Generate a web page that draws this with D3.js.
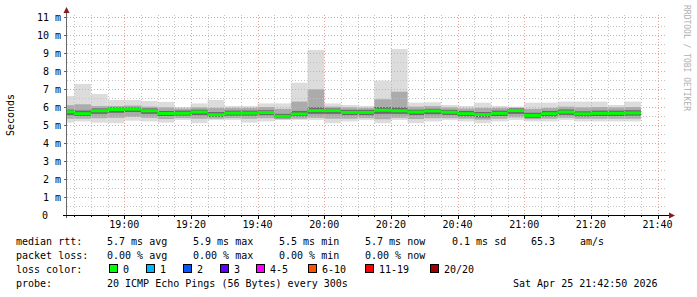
<!DOCTYPE html>
<html>
<head>
<meta charset="utf-8">
<script src="https://cdn.jsdelivr.net/npm/d3@7"></script>
<style>
  body { margin: 0; background: #fff; }
  svg { display: block; }
  text { font-family: "DejaVu Sans Mono", monospace; font-size: 10px; fill: #000; }
</style>
</head>
<body>
<script>
// 5 minute steps, value shown for the step ending at that time
var stepEnds = ["18:45","18:50","18:55","19:00","19:05","19:10","19:15","19:20","19:25","19:30",
                "19:35","19:40","19:45","19:50","19:55","20:00","20:05","20:10","20:15","20:20",
                "20:25","20:30","20:35","20:40","20:45","20:50","20:55","21:00","21:05","21:10",
                "21:15","21:20","21:25","21:30","21:35"];

// rtt in ms
var rttMedian = [5.73,5.63,5.79,5.86,5.88,5.79,5.64,5.65,5.72,5.57,5.66,5.66,5.69,5.48,5.61,5.80,5.80,5.70,5.70,5.82,
                 5.79,5.72,5.78,5.71,5.63,5.58,5.65,5.80,5.53,5.63,5.72,5.62,5.65,5.65,5.67];
var rttMax    = [6.61,7.28,6.72,6.39,6.39,6.33,6.28,6.00,6.20,6.39,6.06,6.06,6.20,6.20,7.35,9.17,6.20,6.11,6.06,7.46,
                 9.22,6.24,6.26,6.11,6.06,6.24,6.06,6.02,6.24,6.24,6.30,6.30,6.30,6.11,6.30];
var rttHigh   = [6.10,6.15,6.05,6.05,6.08,6.02,5.98,5.92,5.98,5.95,5.95,5.95,6.00,5.90,6.30,6.98,6.02,5.98,5.95,6.43,
                 6.85,6.02,6.05,5.98,5.92,5.95,5.95,5.96,5.90,5.95,6.02,5.98,6.00,5.98,6.00];
var rttQ3     = [5.85,5.80,5.92,5.98,5.98,5.92,5.78,5.80,5.85,5.72,5.80,5.80,5.82,5.62,5.78,5.98,5.92,5.84,5.84,6.00,
                 5.98,5.85,5.90,5.84,5.78,5.72,5.80,5.92,5.68,5.78,5.86,5.76,5.80,5.80,5.82];
var rttQ1     = [5.55,5.50,5.62,5.68,5.72,5.62,5.50,5.52,5.55,5.45,5.52,5.52,5.55,5.38,5.48,5.62,5.62,5.55,5.55,5.62,
                 5.62,5.55,5.60,5.56,5.48,5.42,5.50,5.62,5.40,5.48,5.56,5.48,5.50,5.50,5.52];
var rttLow    = [5.35,5.35,5.38,5.40,5.45,5.40,5.33,5.38,5.35,5.35,5.38,5.35,5.38,5.32,5.35,5.40,5.35,5.35,5.38,5.32,
                 5.40,5.33,5.38,5.38,5.35,5.30,5.35,5.42,5.32,5.35,5.40,5.35,5.35,5.35,5.35];
var rttMin    = [5.13,5.20,5.13,5.10,5.24,5.20,5.13,5.28,5.10,5.28,5.28,5.13,5.20,5.28,5.28,5.28,5.10,5.20,5.28,5.10,
                 5.28,5.10,5.20,5.28,5.20,5.10,5.20,5.28,5.20,5.20,5.28,5.20,5.20,5.20,5.20];

var yTicks = [0,1,2,3,4,5,6,7,8,9,10,11];
var xTickLabels = ["19:00","19:20","19:40","20:00","20:20","20:40","21:00","21:20","21:40"];

var lossNames  = ["0","1","2","3","4-5","6-10","11-19","20/20"];
var lossColors = ["#00ff00","#00b8ff","#0059ff","#5e00ff","#ff00ff","#ff5500","#ff0000","#a10000"];

var parse = d3.timeParse("%Y-%m-%d %H:%M:%S");
var day = "2026-04-25 ";
var tStart = parse(day + "18:42:50"), tEnd = parse(day + "21:42:50");

var svg = d3.select("body").append("svg")
    .attr("width", 697)
    .attr("height", 297);

var x = d3.scaleTime().domain([tStart, tEnd]).range([67, 667]);
var y = d3.scaleLinear().domain([0, 200 / 18]).range([215, 15]);

// one record per step
var steps = stepEnds.map(function(t, i) {
  var end = parse(day + t + ":00");
  var start = new Date(Math.max(+tStart, end - 300000));
  return {x0: x(start), x1: x(end), med: rttMedian[i], max: rttMax[i], hi: rttHigh[i],
          q3: rttQ3[i], q1: rttQ1[i], lo: rttLow[i], min: rttMin[i]};
});

// smoke layers, light outside to dark inside
var layers = [["min","max","#dcdcdc"],["lo","hi","#ababab"],["q1","q3","#6a6a6a"]];
layers.forEach(function(l) {
  svg.append("g").selectAll("rect")
    .data(steps)
    .enter().append("rect")
      .attr("x", function(d) {return d.x0;})
      .attr("width", function(d) {return d.x1 - d.x0;})
      .attr("y", function(d) {return y(d[l[1]]);})
      .attr("height", function(d) {return y(d[l[0]]) - y(d[l[1]]);})
      .attr("fill", l[2]);
});

// grid
var grid = svg.append("g");
var minorY = d3.range(0.5, 11.1, 1);
grid.selectAll("line.hminor").data(minorY).enter().append("line")
    .attr("x1", 67).attr("x2", 667)
    .attr("y1", function(d) {return Math.round(y(d)) + 0.5;})
    .attr("y2", function(d) {return Math.round(y(d)) + 0.5;})
    .attr("stroke", "#c4c4c4").attr("stroke-dasharray", "1,2");
grid.selectAll("line.hmajor").data(yTicks.slice(1)).enter().append("line")
    .attr("x1", 67).attr("x2", 667)
    .attr("y1", function(d) {return Math.round(y(d)) + 0.5;})
    .attr("y2", function(d) {return Math.round(y(d)) + 0.5;})
    .attr("stroke", "#e8a0a0").attr("stroke-dasharray", "1,2");

var minorX = d3.timeMinute.every(5).range(tStart, tEnd);
grid.selectAll("line.vminor").data(minorX).enter().append("line")
    .attr("x1", function(d) {return Math.round(x(d)) + 0.5;})
    .attr("x2", function(d) {return Math.round(x(d)) + 0.5;})
    .attr("y1", 15).attr("y2", 215)
    .attr("stroke", function(d) {return d.getMinutes() % 20 == 0 ? "#e8a0a0" : "#c4c4c4";})
    .attr("stroke-dasharray", "1,2");

// median line
svg.append("g").selectAll("rect")
  .data(steps)
  .enter().append("rect")
    .attr("x", function(d) {return d.x0;})
    .attr("width", function(d) {return d.x1 - d.x0;})
    .attr("y", function(d) {return y(d.med) - 1.5;})
    .attr("height", 3)
    .attr("fill", lossColors[0]);

// axes
svg.append("line").attr("x1", 66.5).attr("x2", 66.5).attr("y1", 12).attr("y2", 218)
    .attr("stroke", "#666");
svg.append("line").attr("x1", 63).attr("x2", 670).attr("y1", 215.5).attr("y2", 215.5)
    .attr("stroke", "#000");
svg.append("path").attr("d", "M63.5,13 L66.5,7 L69.5,13 Z").attr("fill", "#8b1a1a");
svg.append("path").attr("d", "M669,212.5 L675,215.5 L669,218.5 Z").attr("fill", "#8b1a1a");

// ticks on bottom axis
svg.append("g").selectAll("line").data(minorX).enter().append("line")
    .attr("x1", function(d) {return Math.round(x(d)) + 0.5;})
    .attr("x2", function(d) {return Math.round(x(d)) + 0.5;})
    .attr("y1", 215).attr("y2", function(d) {return d.getMinutes() % 20 == 0 ? 219 : 217;})
    .attr("stroke", "#000");
// ticks on left axis
svg.append("g").selectAll("line").data(yTicks.slice(1)).enter().append("line")
    .attr("x1", 64).attr("x2", 67)
    .attr("y1", function(d) {return Math.round(y(d)) + 0.5;})
    .attr("y2", function(d) {return Math.round(y(d)) + 0.5;})
    .attr("stroke", "#666");

// y labels
svg.append("g").selectAll("text").data(yTicks).enter().append("text")
    .attr("x", function(d) {return d == 0 ? 48 : 61;})
    .attr("y", function(d) {return y(d) + 4;})
    .attr("text-anchor", "end")
    .text(function(d) {return d == 0 ? "0" : d + " m";});

// x labels
svg.append("g").selectAll("text").data(xTickLabels).enter().append("text")
    .attr("x", function(d) {return x(parse(day + d + ":00"));})
    .attr("y", 228)
    .attr("text-anchor", "middle")
    .text(function(d) {return d;});

svg.append("text").attr("transform", "translate(14,115) rotate(-90)")
    .attr("text-anchor", "middle").text("Seconds");

svg.append("text").attr("transform", "translate(684,5) rotate(90)")
    .style("font-size", "8px").style("fill", "#b0b0b0")
    .text("RRDTOOL / TOBI OETIKER");

// legend
var legendRows = [
  [[16,"median rtt:"],[107,"5.7 ms avg"],[193,"5.9 ms max"],[279,"5.5 ms min"],[365,"5.7 ms now"],[452,"0.1 ms sd"],[531,"65.3"],[580,"am/s"]],
  [[16,"packet loss:"],[107,"0.00 % avg"],[193,"0.00 % max"],[279,"0.00 % min"],[365,"0.00 % now"]],
  [[16,"loss color:"]],
  [[16,"probe:"],[107,"20 ICMP Echo Pings (56 Bytes) every 300s"],[513,"Sat Apr 25 21:42:50 2026"]]
];
legendRows.forEach(function(row, r) {
  svg.append("g").selectAll("text").data(row).enter().append("text")
      .attr("x", function(d) {return d[0];})
      .attr("y", 245 + r * 14)
      .text(function(d) {return d[1];});
});

var boxX = [109,146,183,220,256,308,365,430];
var lg = svg.append("g").selectAll("g").data(lossNames).enter().append("g");
lg.append("rect")
    .attr("x", function(d, i) {return boxX[i] + 0.5;})
    .attr("y", 264.5).attr("width", 8).attr("height", 8)
    .attr("fill", function(d, i) {return lossColors[i];})
    .attr("stroke", "#000");
lg.append("text")
    .attr("x", function(d, i) {return boxX[i] + 14;})
    .attr("y", 273)
    .text(function(d) {return d;});
</script>
</body>
</html>
